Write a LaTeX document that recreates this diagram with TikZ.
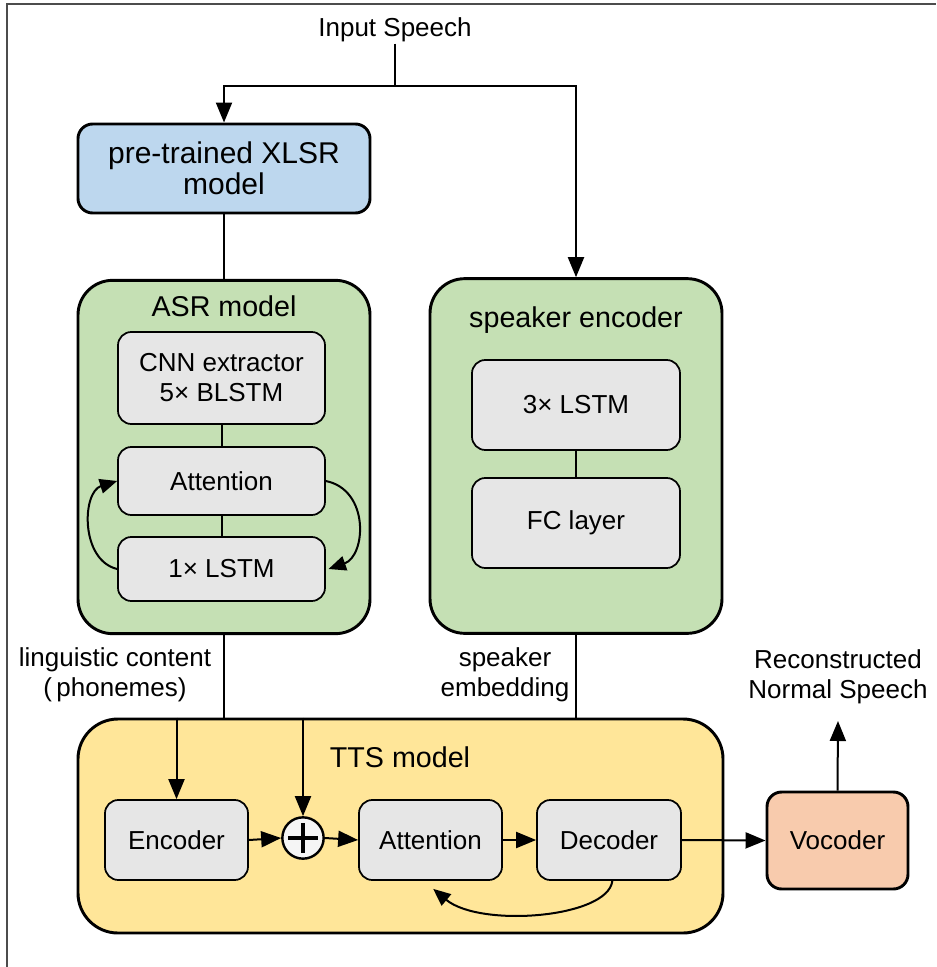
\documentclass[tikz,border=0pt]{standalone}
\usepackage{fontspec}
\setmainfont{Liberation Sans}
\usetikzlibrary{arrows.meta}
\newcommand\fsInner{\fontsize{19.5}{22.5}\selectfont}
\newcommand\fsTitle{\fontsize{21.5}{23}\selectfont}
\newcommand\fsXlsr{\fontsize{22.5}{23}\selectfont}
\definecolor{xlsrblue}{HTML}{BDD7EE}
\definecolor{asrgreen}{HTML}{C5E0B4}
\definecolor{innergray}{HTML}{E6E6E6}
\definecolor{ttsyellow}{HTML}{FFE699}
\definecolor{vocpeach}{HTML}{F8CBAD}
\tikzset{
  bigbox/.style={draw, line width=2.2pt, inner sep=0pt},
  innerbox/.style={draw, line width=1.3pt, fill=innergray, rounded corners=10pt, inner sep=0pt, align=center, font=\fsInner},
  lbl/.style={align=center, font=\fsInner, inner sep=1pt},
  ttl/.style={font=\fsTitle, inner sep=1pt},
  conn/.style={line width=1.5pt},
  arr/.style={line width=1.5pt, arrows={-Triangle[length=15pt,width=12pt]}},
  loopar/.style={line width=1.5pt, arrows={-Triangle[length=13pt,width=11pt]}},
}
\begin{document}
\begin{tikzpicture}[x=0.75pt,y=-0.75pt]
\useasboundingbox (0,0) rectangle (936,967);
% frame
\draw[line width=1.3pt, black!70] (7,967) -- (7,4) -- (936,4);

% top input
\node[lbl] (input) at (395,30) {Input Speech};
\coordinate (j) at (395,86);

% XLSR
\node[bigbox, fill=xlsrblue, rounded corners=11pt, minimum width=219pt, minimum height=66.75pt, align=center, font=\fsXlsr] (xlsr) at (224,168.5) {pre-trained XLSR\\model};

% ASR model
\node[bigbox, fill=asrgreen, rounded corners=26pt, minimum width=219pt, minimum height=265pt] (asr) at (224,457) {};
\node[ttl] (asrt) at (224,306) {ASR model};
\node[innerbox, minimum width=155.25pt, minimum height=69pt] (cnn) at (221.5,378) {CNN extractor\\5\texttimes{} BLSTM};
\node[innerbox, minimum width=155.25pt, minimum height=51pt] (att1) at (221.5,481) {Attention};
\node[innerbox, minimum width=155.25pt, minimum height=48pt] (lstm1) at (221.5,569) {1\texttimes{} LSTM};

% speaker encoder
\node[bigbox, fill=asrgreen, rounded corners=26pt, minimum width=219pt, minimum height=266pt] (spk) at (576,456) {};
\node[ttl] (spkt) at (576,320) {speaker encoder};
\node[innerbox, minimum width=156pt, minimum height=67.5pt] (lstm3) at (576,405) {3\texttimes{} LSTM};
\node[innerbox, minimum width=156pt, minimum height=67.5pt] (fc) at (576,523) {FC layer};

% labels
\node[lbl] (ling) at (115,675) {linguistic content\\(\,phonemes)};
\node[lbl] (spkemb) at (505,675) {speaker\\embedding};
\node[lbl] (recon) at (838,677) {Reconstructed\\Normal Speech};

% TTS
\node[bigbox, fill=ttsyellow, rounded corners=30pt, minimum width=483.75pt, minimum height=160.5pt] (tts) at (400.5,826) {};
\node[ttl] (ttst) at (400,757) {TTS model};
\node[innerbox, minimum width=107.25pt, minimum height=60pt] (enc) at (176.5,840) {Encoder};
\node[draw, circle, line width=1.8pt, fill=innergray!40, minimum size=31pt, inner sep=0pt] (plus) at (303,838) {};
\draw[line width=2.4pt] ([xshift=-11pt]plus.center) -- ([xshift=11pt]plus.center);
\draw[line width=2.4pt] ([yshift=-11pt]plus.center) -- ([yshift=11pt]plus.center);
\node[innerbox, minimum width=107.25pt, minimum height=60pt] (att2) at (430.5,840) {Attention};
\node[innerbox, minimum width=108pt, minimum height=60pt] (dec) at (609,840) {Decoder};

% vocoder
\node[bigbox, fill=vocpeach, rounded corners=11pt, minimum width=105.75pt, minimum height=72.75pt, font=\fsInner] (voc) at (837.5,840.5) {Vocoder};
\coordinate (out) at (838,721);

% connectors
\draw[conn] (input.south) -- (j);
\draw[arr] (j) -| (xlsr.north);
\draw[arr] (j) -| (spk.north);
\draw[conn] (xlsr.south) -- (asr.north);
\draw[conn] (cnn.south) -- (att1.north);
\draw[conn] (att1.south) -- (lstm1.north);
\draw[conn] (lstm3.south) -- (fc.north);
\draw[loopar] (lstm1.west) .. controls (80,560) and (82,492) .. (att1.west);
\draw[loopar] (att1.east) .. controls (370,490) and (366,556) .. ([xshift=2pt]lstm1.east);
\draw[conn] (asr.south) -- (asr.south |- tts.north);
\draw[conn] (spk.south) -- (spk.south |- tts.north);
\draw[arr] (enc.north |- tts.north) -- (enc.north);
\draw[arr] (plus.north |- tts.north) -- (plus.north);
\draw[arr] (enc.east) -- (plus.west);
\draw[arr] (plus.east) -- (att2.west);
\draw[arr] (att2.east) -- (dec.west);
\draw[arr] (dec.east) -- (voc.west);
\draw[arr] (voc.north) -- (out);
\draw[loopar] ([xshift=2.5pt]dec.south) .. controls (608,918) and (480,928) .. ([xshift=2pt,yshift=-6pt]att2.south);
\end{tikzpicture}
\end{document}
